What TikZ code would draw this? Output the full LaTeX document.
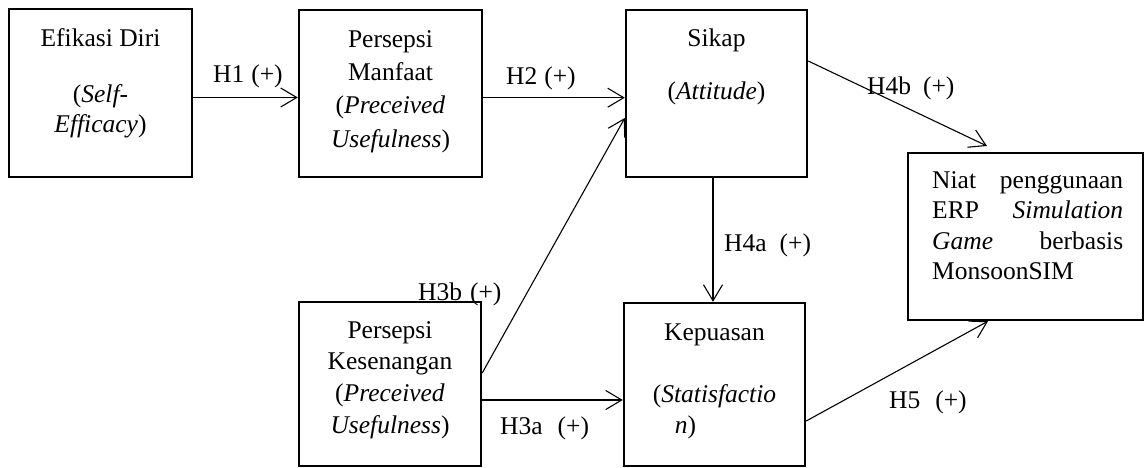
\documentclass[tikz,border=0pt]{standalone}
\usepackage{fontspec}
\setmainfont{Liberation Serif}
\usetikzlibrary{arrows.meta}
\newcommand{\mystrut}{\rule{0pt}{18.5pt}}
\begin{document}
\begin{tikzpicture}[x=1pt,y=-1pt,
  box/.style={draw, line width=2.4pt, inner sep=0pt, rectangle},
  txt/.style={inner sep=0pt, align=center, anchor=north},
  lbl/.style={inner sep=0pt, anchor=base west, font=\fontsize{25.5}{30}\selectfont},
  arr/.style={line width=1.1pt, -{Straight Barb[length=16pt,width=19pt]}}]
\useasboundingbox (0,0) rectangle (1145,468);
\fill[white] (0,0) rectangle (1145,468);
% boxes
\node[box, minimum width=183pt, minimum height=168pt] (ef) at (100.5,93) {};
\node[box, minimum width=183pt, minimum height=167pt] (pm) at (390.5,93.5) {};
\node[box, minimum width=181pt, minimum height=167pt] (sk) at (716.5,93.5) {};
\node[box, minimum width=235pt, minimum height=167pt] (ni) at (1025.5,236.5) {};
\node[box, minimum width=182pt, minimum height=164pt] (pk) at (390,384) {};
\node[box, minimum width=181pt, minimum height=163pt] (kp) at (714.5,384.5) {};
% texts
\node[txt, font=\fontsize{25.5}{30}\selectfont] (eft) at (100.5,27.5)
  {\mystrut Efikasi Diri\\[26pt](\textit{Self-}\\\textit{Efficacy})};
\node[txt, font=\fontsize{25.5}{33.3}\selectfont] (pmt) at (390.5,28.5)
  {\mystrut Persepsi\\Manfaat\\(\textit{Preceived}\\\textit{Usefulness})};
\node[txt, font=\fontsize{25.5}{31}\selectfont] (skt) at (716.5,27.5)
  {\mystrut Sikap\\[22pt](\textit{Attitude})};
\node[txt, font=\fontsize{25.5}{31.7}\selectfont] (pkt) at (390,319.5)
  {\mystrut Persepsi\\Kesenangan\\(\textit{Preceived}\\\textit{Usefulness})};
\node[txt, font=\fontsize{25.5}{31}\selectfont] (kpt) at (714.5,321.5)
  {\mystrut Kepuasan\\[31pt](\textit{Statisfactio}\\\hspace*{-58pt}\textit{n})};
\node[inner sep=0pt, anchor=north west, text width=191pt, align=left,
  font=\fontsize{25.5}{30.5}\selectfont] (nit) at (932,169.5)
  {\mystrut Niat\hfill penggunaan\\ERP\hfill\textit{Simulation}\\\textit{Game}\hfill berbasis\\MonsoonSIM};
% labels
\node[lbl] (l1) at (213,83) {H1\hspace*{7pt}(+)};
\node[lbl] (l2) at (506,85) {H2\hspace*{7pt}(+)};
\node[lbl] (l4b) at (867,95) {H4b\hspace*{12pt}(+)};
\node[lbl] (l4a) at (724,251) {H4a\hspace*{13pt}(+)};
\node[lbl] (l3b) at (418,300) {H3b\hspace*{8pt}(+)};
\node[lbl] (l3a) at (500,434) {H3a\hspace*{15pt}(+)};
\node[lbl] (l5) at (889,408) {H5\hspace*{15pt}(+)};
% connectors
\coordinate (h4bend) at (987,146);
\draw[arr] ([yshift=-4.5pt]ef.east) -- ([yshift=-4.5pt]ef.east -| pm.west);
\draw[arr] ([yshift=-4.2pt]pm.east) -- ([yshift=-4.2pt]pm.east -| sk.west);
\draw[arr] ([yshift=32.5pt]sk.east) -- (h4bend);
\draw[arr] ([xshift=-3.5pt]sk.south) -- ([xshift=-3.5pt]sk.south |- kp.north);
\draw[arr] ([yshift=11pt]pk.east) -- ([yshift=-24.5pt]sk.west);
\draw[arr] ([yshift=-16pt]pk.east) -- ([yshift=-16pt]pk.east -| kp.west);
\draw[arr] ([yshift=-36.5pt]kp.east) -- ([xshift=-37.5pt]ni.south);
\end{tikzpicture}
\end{document}
